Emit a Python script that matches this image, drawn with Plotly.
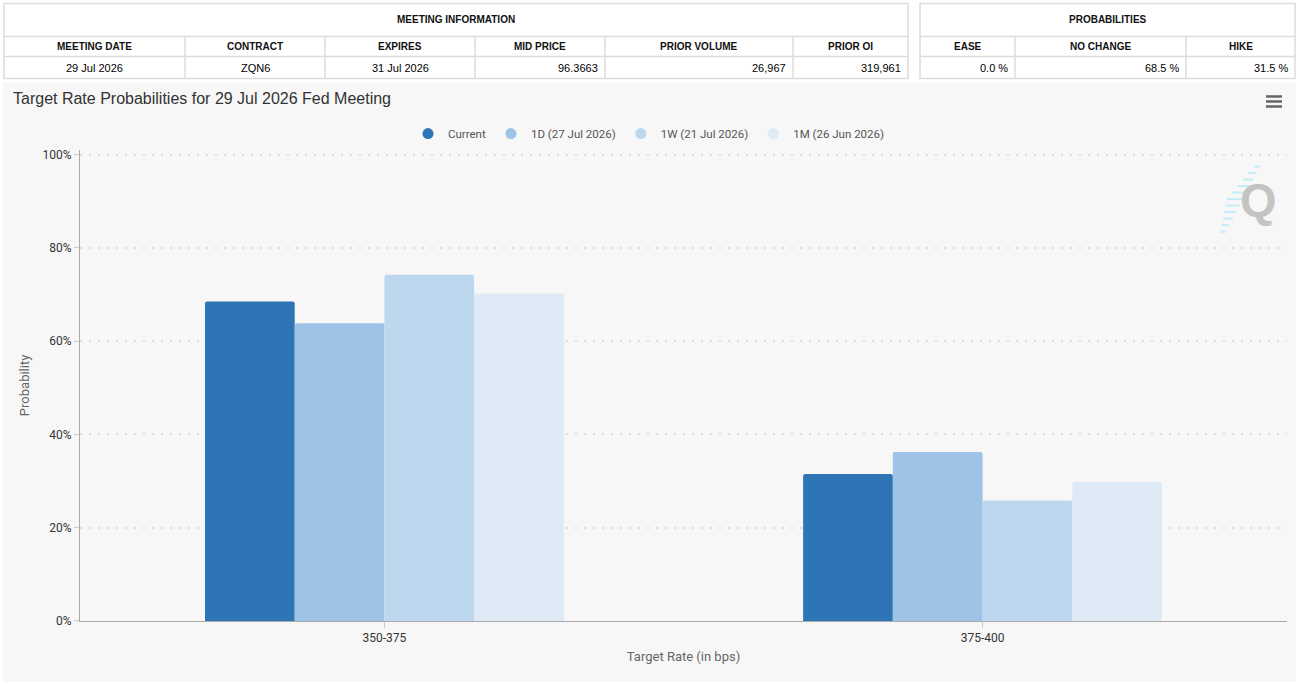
import plotly.graph_objects as go

W, H = 1299, 685

# ---------------- data ----------------
categories = ["350-375", "375-400"]
series_names = ["Current", "1D (27 Jul 2026)", "1W (21 Jul 2026)", "1M (26 Jun 2026)"]
current = [68.5, 31.5]
one_day = [63.8, 36.2]
one_week = [74.2, 25.8]
one_month = [70.2, 29.8]

y_ticks = [0, 20, 40, 60, 80, 100]
y_tick_labels = ["0%", "20%", "40%", "60%", "80%", "100%"]

meeting_title = "MEETING INFORMATION"
meeting_headers = ["MEETING DATE", "CONTRACT", "EXPIRES", "MID PRICE", "PRIOR VOLUME", "PRIOR OI"]
meeting_values = ["29 Jul 2026", "ZQN6", "31 Jul 2026", "96.3663", "26,967", "319,961"]
prob_title = "PROBABILITIES"
prob_headers = ["EASE", "NO CHANGE", "HIKE"]
prob_values = ["0.0 %", "68.5 %", "31.5 %"]

chart_title = "Target Rate Probabilities for 29 Jul 2026 Fed Meeting"
x_title = "Target Rate (in bps)"
y_title = "Probability"

# ---------------- styles ----------------
colors = ["#2e75b6", "#9dc3e6", "#bdd7ee", "#deebf7"]
TABLE_FONT = "Liberation Sans, Arial, sans-serif"
CHART_FONT = "Roboto, DejaVu Sans, sans-serif"
BORDER = "#dcdcdc"

# vertical mapping of the photographed page (measured offset / scale)
V_OFF, V_SCALE = 1.6, 0.986


def fx(px):
    return px / W


def fy(py):
    page = max((py - V_OFF) / V_SCALE, 0.6)
    return 1 - page / H


shapes = []
annotations = []


def add_table(x_left, col_widths, title, headers, values, aligns, rows=(3, 36, 56, 78)):
    r0, r1, r2, r3 = rows
    x_right = x_left + sum(col_widths)
    shapes.append(dict(type="rect", xref="paper", yref="paper", x0=fx(x_left), x1=fx(x_right),
                       y0=fy(r3), y1=fy(r0), fillcolor="white", line=dict(color=BORDER, width=1.5),
                       layer="below"))
    for r in (r1, r2):
        shapes.append(dict(type="line", xref="paper", yref="paper", x0=fx(x_left), x1=fx(x_right),
                           y0=fy(r), y1=fy(r), line=dict(color=BORDER, width=1.5)))
    annotations.append(dict(text="<b>" + title + "</b>", xref="paper", yref="paper",
                            x=fx((x_left + x_right) / 2), y=fy((r0 + r1) / 2), showarrow=False,
                            xanchor="center", yanchor="middle",
                            font=dict(family=TABLE_FONT, size=10, color="#111111")))
    xs = x_left
    for i, (w, h, v, a) in enumerate(zip(col_widths, headers, values, aligns)):
        if i > 0:
            shapes.append(dict(type="line", xref="paper", yref="paper", x0=fx(xs), x1=fx(xs),
                               y0=fy(r3), y1=fy(r1), line=dict(color=BORDER, width=1.5)))
        annotations.append(dict(text="<b>" + h + "</b>", xref="paper", yref="paper",
                                x=fx(xs + w / 2), y=fy((r1 + r2) / 2), showarrow=False,
                                xanchor="center", yanchor="middle",
                                font=dict(family=TABLE_FONT, size=10, color="#111111")))
        if a == "right":
            ax, anc = xs + w - 5, "right"
        else:
            ax, anc = xs + w / 2, "center"
        annotations.append(dict(text=v, xref="paper", yref="paper",
                                x=fx(ax), y=fy((r2 + r3) / 2 + 0.5), showarrow=False,
                                xanchor=anc, yanchor="middle",
                                font=dict(family=TABLE_FONT, size=11, color="#000000")))
        xs += w


add_table(4, [181, 140, 150, 130, 188, 115], meeting_title, meeting_headers, meeting_values,
          ["center", "center", "center", "right", "right", "right"])
add_table(920, [95, 171, 109], prob_title, prob_headers, prob_values,
          ["right", "right", "right"])

fig = go.Figure()

# ---------------- bars ----------------
series_values = [current, one_day, one_week, one_month]
for name, vals, c in zip(series_names, series_values, colors):
    fig.add_trace(go.Bar(x=categories, y=vals, name=name, marker=dict(color=c, line=dict(width=0)),
                         showlegend=False, legendgroup=name))
for name, c in zip(series_names, colors):
    fig.add_trace(go.Scatter(x=[None], y=[None], mode="markers", name=name, legendgroup=name,
                             marker=dict(symbol="circle", size=11, color=c)))

# ---------------- decorations ----------------
shapes.insert(0, dict(type="rect", xref="paper", yref="paper", x0=fx(3), x1=fx(1296), y0=fy(681),
                      y1=fy(82), fillcolor="#f7f7f7", line=dict(width=0), layer="below"))
for yy in (96, 101, 106):
    shapes.append(dict(type="line", xref="paper", yref="paper", x0=fx(1266), x1=fx(1282),
                       y0=fy(yy), y1=fy(yy), line=dict(color="#666666", width=2.5)))
for k in range(11):
    yy = 166 + k * 6.5
    xr = 1262 - (yy - 162) * 0.52
    ln = 6 + 10 * (1 - abs(k - 5) / 5)
    shapes.append(dict(type="line", xref="paper", yref="paper", x0=fx(xr - ln), x1=fx(xr),
                       y0=fy(yy), y1=fy(yy), line=dict(color="#c4ecf7", width=2)))

annotations.append(dict(text="<b>Q</b>", xref="paper", yref="paper", x=fx(1258), y=fy(199),
                        showarrow=False, font=dict(family="Liberation Sans, Arial", size=47,
                                                   color="#c4c4c4"),
                        xanchor="center", yanchor="middle"))

# y range slightly above 100 so the 100% grid line is drawn; domain keeps 0%->620, 100%->154
Y_MAX = 101
PX_PER_UNIT = (620 - 154) / 100

fig.update_layout(
    autosize=True,
    margin=dict(l=0, r=0, t=0, b=0, pad=0),
    paper_bgcolor="white",
    plot_bgcolor="rgba(0,0,0,0)",
    barmode="group", bargap=0.4, bargroupgap=0, barcornerradius=2,
    hovermode=False,
    shapes=shapes,
    annotations=annotations,
    title=dict(text=chart_title, x=fx(13), xanchor="left", y=fy(98), yanchor="middle",
               xref="paper", yref="paper",
               font=dict(family=TABLE_FONT, size=16, color="#333333")),
    legend=dict(orientation="h", x=fx(649), xanchor="center", y=fy(133), yanchor="middle",
                bgcolor="rgba(0,0,0,0)", font=dict(family=CHART_FONT, size=11.5, color="#555555"),
                itemwidth=30, tracegroupgap=0),
    xaxis=dict(domain=[fx(80), fx(1287)], type="category", range=[-0.509, 1.509],
               showline=True, linecolor="#aaaaaa", linewidth=1,
               ticks="outside", ticklen=6, tickcolor="#cccccc",
               tickfont=dict(family=CHART_FONT, size=12, color="#333333"),
               title=dict(text=x_title, standoff=7,
                          font=dict(family=CHART_FONT, size=13, color="#666666")),
               showgrid=False, zeroline=False),
    yaxis=dict(domain=[fy(620), fy(620 - Y_MAX * PX_PER_UNIT)], range=[0, Y_MAX],
               tickvals=y_ticks, ticktext=y_tick_labels,
               showline=True, linecolor="#aaaaaa", linewidth=1,
               ticks="outside", ticklen=5, tickcolor="#cccccc",
               tickfont=dict(family=CHART_FONT, size=12, color="#333333"),
               showgrid=True, gridcolor="#dddddd", gridwidth=2, griddash="2px,7px",
               zeroline=False,
               title=dict(text=y_title, standoff=10,
                          font=dict(family=CHART_FONT, size=13, color="#666666"))),
)

fig.write_html("out.html", include_plotlyjs=True, config={"displayModeBar": False, "responsive": True},
               default_width="100vw", default_height="100vh",
               post_script="document.documentElement.style.overflow='hidden';"
                           "document.body.style.margin='0';document.body.style.overflow='hidden';")
